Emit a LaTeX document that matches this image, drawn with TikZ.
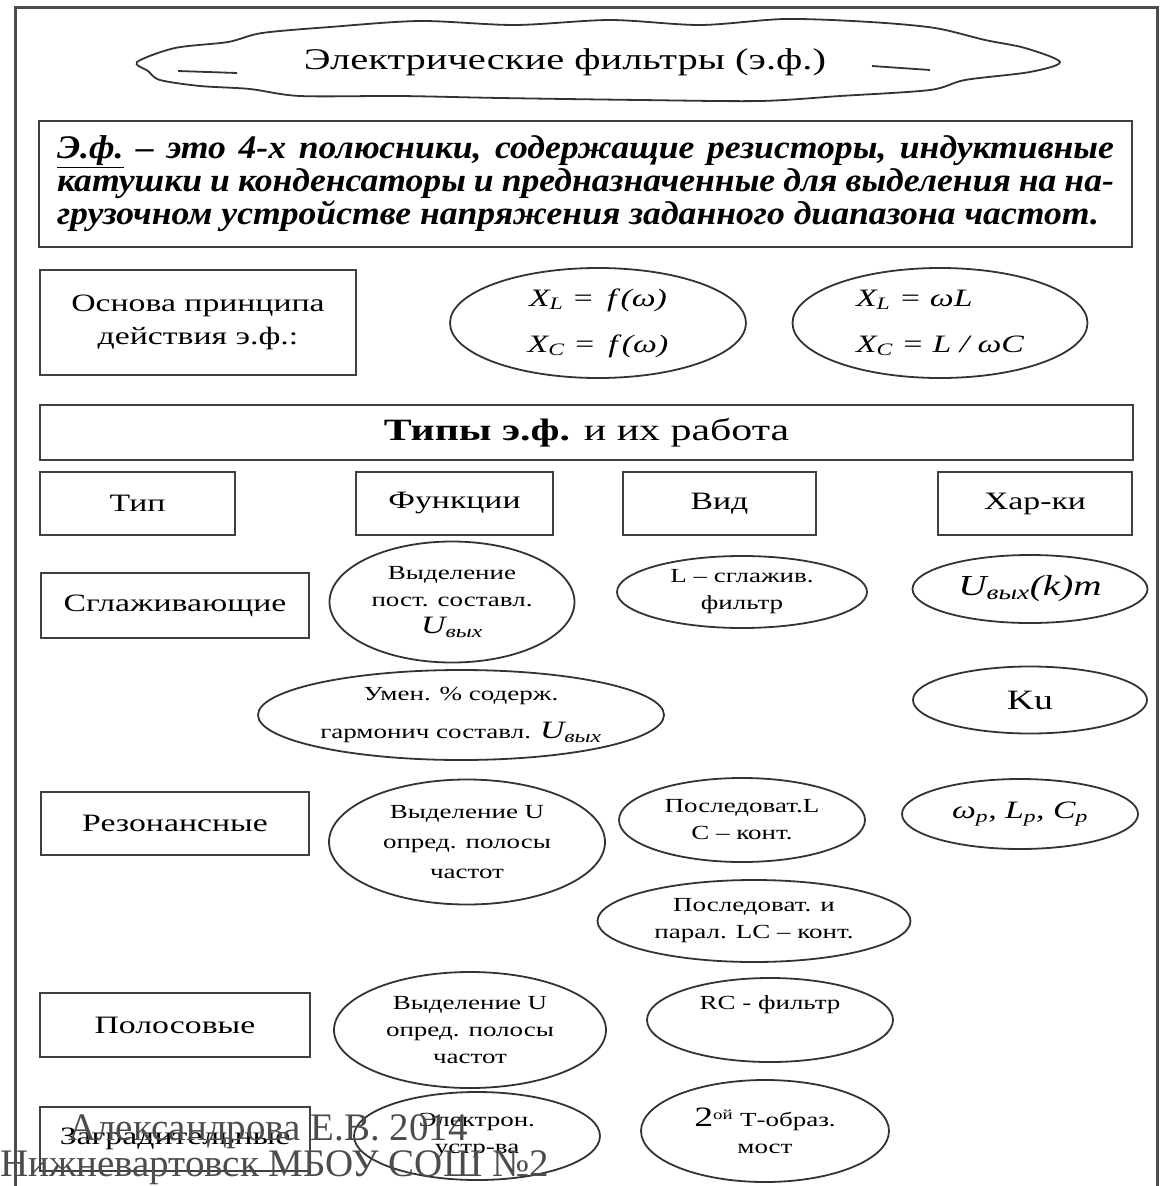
\documentclass[tikz,border=0pt]{standalone}
\usepackage{fontspec}
\setmainfont{Liberation Serif}[FakeStretch=1.35]
\newfontfamily\deffont{Liberation Serif}[FakeStretch=1.08]
\newfontfamily\stampfont{Liberation Serif}
\usetikzlibrary{shapes.geometric}

\begin{document}
\begin{tikzpicture}[x=1pt,y=-1pt,
  box/.style={draw=black!75, line width=2.2pt, inner sep=0pt, align=center, font=\fontsize{25}{33}\selectfont},
  oval/.style={draw=black!80, line width=1.8pt, ellipse, inner sep=0pt, align=center, font=\fontsize{20}{27}\selectfont},
  formula/.style={oval, font=\fontsize{25}{46}\selectfont\itshape},
  stamp/.style={anchor=base west, inner sep=0pt, text=black!70, font=\stampfont\fontsize{39}{39}\selectfont}]

\useasboundingbox (0,0) rectangle (1161,1186);
\draw[line width=3pt, black!70] (15,7) rectangle (1157,1240);

\draw[line width=1.8pt, black!80] plot[smooth cycle, tension=0.5] coordinates {(137,62) (175,48) (228,42) (262,33) (330,27) (420,21) (515,25) (610,20) (700,25) (785,19) (870,22) (935,28) (985,40) (1025,48) (1060,62) (1030,72) (965,80) (930,90) (840,96) (760,101) (640,100) (500,98) (400,96) (300,96) (250,89) (200,86) (160,80) (148,71)};
\draw[line width=1.8pt, black!80] (178,71) -- (237,73);
\draw[line width=1.8pt, black!80] (872,66) -- (930,70);
\node[font=\fontsize{30}{36}\selectfont] (title) at (565,62) {Электрические фильтры (э.ф.)};

\node[draw=black!75, line width=2.2pt, minimum width=1093pt, minimum height=126pt, text width=1057pt, inner sep=0pt, align=justify, font=\deffont\bfseries\itshape\fontsize{33}{33}\selectfont] (definition) at (585.5,184) {\underline{Э.ф.} – это 4-х полюсники, содержащие резисторы, индуктивные\linebreak катушки и конденсаторы и предназначенные для выделения на на-\linebreak грузочном устройстве напряжения заданного диапазона частот.};

\node[box, minimum width=316pt, minimum height=105pt] (basis) at (198,322.5) {Основа принципа\\действия э.ф.:};
\node[formula, minimum width=296pt, minimum height=110pt] (depend) at (598,323) {X\textsubscript{L} = \,f\,(ω)\\X\textsubscript{C} = \,f\,(ω)};
\node[formula, minimum width=295pt, minimum height=110pt, align=left] (react) at (940,323) {X\textsubscript{L} = ωL\\X\textsubscript{C} = L / ωC};

\node[box, minimum width=1093pt, minimum height=55pt, font=\fontsize{31}{36}\selectfont] (types) at (586.5,432.5) {\textbf{Типы э.ф.} и их работа};

\node[box, minimum width=195pt, minimum height=63pt] (headtype) at (137.5,503.5) {Тип};
\node[box, minimum width=197pt, minimum height=63pt] (headfun) at (454.5,503.5) {Функции};
\node[box, minimum width=193pt, minimum height=63pt] (headkind) at (719.5,503.5) {Вид};
\node[box, minimum width=194pt, minimum height=63pt] (headchar) at (1035,503.5) {Хар-ки};

\node[box, minimum width=268pt, minimum height=65pt] (smoothtype) at (175,605.5) {Сглаживающие};
\node[oval, minimum width=245pt, minimum height=121pt] (smoothfun) at (452,602) {Выделение\\пост. составл.\\{\fontsize{25}{27}\selectfont\itshape U\textsubscript{вых}}};
\node[oval, minimum width=250pt, minimum height=72pt] (smoothkind) at (742,592) {L – сглажив.\\фильтр};
\node[formula, minimum width=235pt, minimum height=68pt, font=\fontsize{29}{30}\selectfont\itshape] (smoothchar) at (1030,589) {U\textsubscript{вых}(k)m};

\node[oval, minimum width=406pt, minimum height=90pt, font=\fontsize{20}{38}\selectfont] (harmfun) at (461,715) {Умен. \% содерж.\\гармонич составл. {\fontsize{25}{27}\selectfont\itshape U\textsubscript{вых}}};
\node[oval, minimum width=234pt, minimum height=67pt, font=\fontsize{28}{30}\selectfont] (gainchar) at (1030,700) {Ku};

\node[box, minimum width=268pt, minimum height=63pt] (restype) at (175,823.5) {Резонансные};
\node[oval, minimum width=276pt, minimum height=125pt, font=\fontsize{20}{30}\selectfont] (resfun) at (467,842) {Выделение U\\опред. полосы\\частот};
\node[oval, minimum width=246pt, minimum height=84pt] (resseries) at (742,820) {Последоват.L\\C – конт.};
\node[formula, minimum width=236pt, minimum height=70pt, font=\fontsize{25}{30}\selectfont\itshape] (reschar) at (1020,814) {ω\textsubscript{р}, L\textsubscript{р}, C\textsubscript{р}};
\node[oval, minimum width=313pt, minimum height=82pt] (resmixed) at (754,921) {Последоват. и\\парал. LC – конт.};

\node[box, minimum width=270pt, minimum height=64pt] (bandtype) at (175,1025) {Полосовые};
\node[oval, minimum width=272pt, minimum height=116pt] (bandfun) at (470,1030) {Выделение U\\опред. полосы\\частот};
\node[oval, minimum width=246pt, minimum height=84pt] (bandkind) at (770,1020) {RC - фильтр\\\strut};

\node[box, minimum width=270pt, minimum height=64pt] (stoptype) at (175,1139) {Заградительные};
\node[oval, minimum width=246pt, minimum height=88pt] (stopfun) at (477,1136) {Электрон.\\устр-ва};
\node[oval, minimum width=248pt, minimum height=102pt] (stopkind) at (765,1131) {{\fontsize{28}{28}\selectfont 2}\textsuperscript{ой} Т-образ.\\мост};

\node[stamp] (author) at (68,1140) {Александрова Е.В. 2014};
\node[stamp] (place) at (0,1176) {Нижневартовск МБОУ СОШ №2};
\end{tikzpicture}
\end{document}
